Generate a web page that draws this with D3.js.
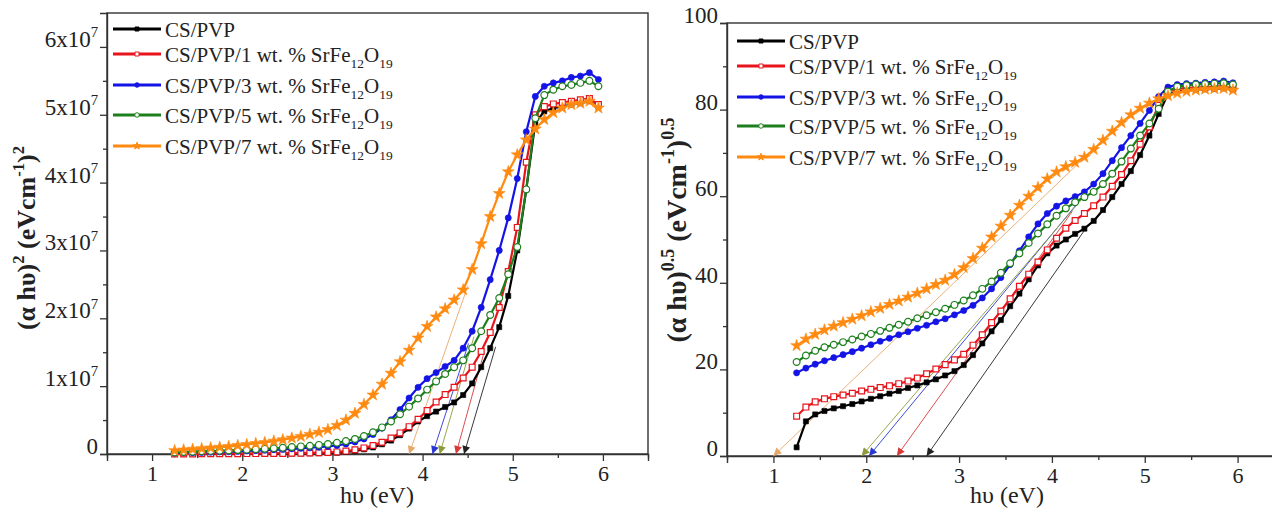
<!DOCTYPE html>
<html>
<head>
<meta charset="utf-8">
<script src="https://cdn.jsdelivr.net/npm/d3@7"></script>
<style>
  body { margin: 0; background: #fff; }
  svg { display: block; }
  text { font-family: "Liberation Serif", "Times New Roman", serif; fill: #222; }
</style>
</head>
<body>
<svg id="chart" width="1272" height="509"></svg>
<script>
// photon energy hv (eV), shared by every series
const energy = [1.25,1.35,1.45,1.55,1.65,1.75,1.85,1.95,2.05,2.15,2.25,2.35,2.45,2.55,2.65,2.75,2.85,2.95,
  3.05,3.15,3.25,3.35,3.45,3.55,3.65,3.75,3.85,3.95,4.05,4.15,4.25,4.35,4.45,4.55,4.65,4.75,4.85,4.95,
  5.05,5.15,5.25,5.35,5.45,5.55,5.65,5.75,5.85,5.95];

// (a hv)^2 in units of 1e7 (left panel)
const directCsPvp = [0,0,0.001,0.001,0.002,0.002,0.002,0.003,0.003,0.004,0.004,0.005,0.006,0.007,0.008,0.010,0.012,0.015,
  0.019,0.030,0.046,0.069,0.097,0.143,0.198,0.277,0.375,0.48,0.558,0.625,0.693,0.76,0.869,1.04,1.28,1.56,1.87,2.33,
  3.00,3.90,4.88,5.05,5.10,5.12,5.15,5.17,5.20,5.12];
const direct1wt = [0.001,0.002,0.002,0.003,0.004,0.004,0.004,0.005,0.006,0.006,0.007,0.008,0.009,0.011,0.013,0.016,0.020,0.024,
  0.031,0.043,0.062,0.09,0.126,0.174,0.236,0.311,0.403,0.513,0.64,0.766,0.876,0.983,1.12,1.28,1.51,1.79,2.16,2.69,
  3.34,4.30,5.00,5.12,5.16,5.18,5.20,5.22,5.24,5.15];
const direct3wt = [0.014,0.017,0.020,0.023,0.027,0.030,0.034,0.038,0.044,0.049,0.055,0.062,0.068,0.076,0.083,0.092,0.101,0.113,
  0.127,0.147,0.177,0.222,0.288,0.382,0.505,0.656,0.825,0.983,1.11,1.20,1.29,1.38,1.56,1.81,2.16,2.57,3.00,3.48,
  4.06,4.75,5.27,5.42,5.47,5.50,5.55,5.57,5.62,5.52];
const direct5wt = [0.022,0.029,0.035,0.040,0.044,0.048,0.052,0.058,0.063,0.070,0.077,0.084,0.092,0.102,0.112,0.121,0.134,0.148,
  0.166,0.19,0.222,0.264,0.32,0.392,0.48,0.586,0.698,0.819,0.949,1.07,1.18,1.28,1.38,1.56,1.81,2.05,2.30,2.65,
  3.05,3.90,4.95,5.29,5.37,5.42,5.44,5.47,5.50,5.42];
const direct7wt = [0.05,0.06,0.07,0.08,0.09,0.10,0.11,0.125,0.14,0.155,0.17,0.19,0.21,0.235,0.26,0.29,0.32,0.36,
  0.42,0.50,0.60,0.73,0.87,1.03,1.19,1.36,1.53,1.71,1.88,2.02,2.14,2.27,2.42,2.72,3.10,3.50,3.84,4.16,
  4.41,4.63,4.79,4.93,5.03,5.10,5.15,5.17,5.20,5.10];

// (a hv)^0.5 (right panel)
const indirectCsPvp = [2.0,8.0,9.6,10.4,11.0,11.5,12.0,12.6,13.2,13.8,14.4,15.0,15.7,16.3,17.0,17.7,18.6,19.6,
  21.0,23.3,26.0,28.8,31.4,34.6,37.5,40.8,44.0,46.8,48.6,50.0,51.3,52.5,54.3,56.8,59.8,62.8,65.8,69.5,
  74.0,79.0,83.6,84.3,84.5,84.6,84.7,84.8,84.9,84.6];
const indirect1wt = [9.2,11.3,12.5,13.2,13.7,14.1,14.5,15.0,15.4,15.8,16.2,16.7,17.3,18.0,19.0,20.1,21.1,22.2,
  23.5,25.6,28.0,30.8,33.5,36.3,39.2,42.0,44.8,47.6,50.3,52.6,54.4,56.0,57.8,59.8,62.3,65.0,68.2,72.0,
  76.0,81.0,84.3,84.8,85.0,85.1,85.2,85.3,85.4,85.0];
const indirect3wt = [19.2,20.3,21.2,22.0,22.7,23.4,24.1,24.9,25.7,26.5,27.2,28.0,28.7,29.5,30.2,31.0,31.7,32.6,
  33.6,34.8,36.5,38.6,41.2,44.2,47.4,50.6,53.6,56.0,57.7,58.9,59.9,61.0,62.8,65.2,68.2,71.2,74.0,76.8,
  79.8,83.0,85.2,85.8,86.0,86.1,86.3,86.4,86.6,86.2];
const indirect5wt = [21.7,23.2,24.3,25.1,25.7,26.3,26.9,27.6,28.2,28.9,29.6,30.3,31.0,31.8,32.5,33.2,34.0,34.9,
  35.9,37.1,38.6,40.3,42.3,44.5,46.8,49.2,51.4,53.5,55.5,57.2,58.6,59.8,61.0,62.8,65.2,68.0,71.0,74.0,
  76.8,80.2,84.2,85.3,85.6,85.8,85.9,86.0,86.1,85.8];
const indirect7wt = [25.5,27.0,28.1,29.1,30.0,30.8,31.6,32.4,33.3,34.1,35.0,35.8,36.7,37.6,38.6,39.6,40.6,41.9,
  43.5,45.6,48.0,50.6,53.1,55.6,57.9,60.0,62.0,64.0,65.6,66.8,67.8,69.0,70.8,72.9,75.0,77.0,78.8,80.3,
  81.5,82.5,83.2,83.8,84.2,84.5,84.7,84.8,84.9,84.5];

// band gap extrapolation: tangent start [hv, value] and intercept hv
const directTails = [[4.81,1.58],[4.68,1.49],[4.51,1.63],[4.57,1.73],[4.50,2.47]];
const directGaps = [4.46,4.37,4.11,4.19,3.85];
const indirectTails = [[4.38,53.0],[4.22,56.5],[4.35,60.3],[4.33,59.5],[4.33,68.5]];
const indirectGaps = [2.65,2.33,2.03,1.95,1.00];

const wtPercent = [null, 1, 3, 5, 7];
const xTicks = [1, 2, 3, 4, 5, 6];
const directYTicks = [0, 1, 2, 3, 4, 5, 6];
const indirectYTicks = [0, 20, 40, 60, 80, 100];

const colors = ['#000000', '#e8141c', '#1414e6', '#1c7f1c', '#ff8a10'];
const arrowColors = ['#222222', '#d83a3a', '#2838d0', '#8c9c3c', '#e6a868'];
const symbols = [d3.symbolSquare, d3.symbolSquare, d3.symbolCircle, d3.symbolCircle, d3.symbolStar];
const hollow = [false, true, false, true, false];
const symbolSizes = [26, 34, 30, 36, 44];

const svg = d3.select('#chart');
const defs = svg.append('defs');
arrowColors.forEach((c, i) => {
  defs.append('marker')
    .attr('id', 'head' + i)
    .attr('viewBox', '0 0 10 10')
    .attr('refX', 10).attr('refY', 5)
    .attr('markerUnits', 'userSpaceOnUse')
    .attr('markerWidth', 9).attr('markerHeight', 8)
    .attr('orient', 'auto')
    .append('path').attr('d', 'M0,0L10,5L0,10z').attr('fill', c);
});

// text with sub/superscripts
function richText(sel, parts, size) {
  let shift = 0;
  parts.forEach(p => {
    const target = p.sub ? size * 0.3 : p.sup ? -size * 0.42 : 0;
    sel.append('tspan')
      .attr('dy', target - shift)
      .attr('font-size', (p.sub || p.sup) ? size * 0.64 : size)
      .text(p.t);
    shift = target;
  });
}

function legendParts(i) {
  if (wtPercent[i] === null) return [{ t: 'CS/PVP' }];
  return [{ t: `CS/PVP/${wtPercent[i]} wt. % SrFe` }, { t: '12', sub: true }, { t: 'O' }, { t: '19', sub: true }];
}

function drawPanel(cfg) {
  const g = svg.append('g');
  const x = d3.scaleLinear().domain([0.5, 6.5]).range(cfg.xRange);
  const y = d3.scaleLinear().domain(cfg.yDomain).range(cfg.yRange);
  const [x0, x1] = cfg.xRange, [yb, yt] = cfg.yRange;

  // frame
  g.append('rect')
    .attr('x', x0).attr('y', yt).attr('width', x1 - x0).attr('height', yb - yt)
    .attr('fill', 'none').attr('stroke', '#333').attr('stroke-width', 1.4);

  // axes: majors + minors
  const halfX = d3.range(0.5, 6.6, 1);
  g.append('g').attr('transform', `translate(0,${yb})`)
    .call(d3.axisBottom(x).tickValues(halfX).tickSize(4).tickFormat(''))
    .call(a => a.select('.domain').remove());
  const xa = g.append('g').attr('transform', `translate(0,${yb})`)
    .call(d3.axisBottom(x).tickValues(xTicks).tickSize(7).tickPadding(4).tickFormat(d3.format('d')));
  xa.select('.domain').attr('stroke', '#333').attr('stroke-width', 1.4);
  xa.selectAll('text').attr('font-size', 22).attr('font-family', '"Liberation Serif", serif').attr('fill', '#222');

  const step = cfg.yTicks[1] - cfg.yTicks[0];
  const minorY = cfg.yTicks.slice(0, -1).map(v => v + step / 2);
  g.append('g').attr('transform', `translate(${x0},0)`)
    .call(d3.axisLeft(y).tickValues(minorY).tickSize(4).tickFormat(''))
    .call(a => a.select('.domain').remove());
  const ya = g.append('g').attr('transform', `translate(${x0},0)`)
    .call(d3.axisLeft(y).tickValues(cfg.yTicks).tickSize(7).tickFormat(''));
  ya.select('.domain').attr('stroke', '#333').attr('stroke-width', 1.4);
  g.selectAll('.tick line').attr('stroke', '#333').attr('stroke-width', 1.3);

  cfg.yTicks.forEach(v => {
    const t = g.append('text').attr('x', x0 - 9).attr('y', y(v)).attr('dy', '0.35em')
      .attr('text-anchor', 'end').attr('font-size', 23);
    richText(t, cfg.tickParts(v), 23);
  });

  // axis titles
  g.append('text').attr('x', cfg.xTitleX).attr('y', 503).attr('text-anchor', 'middle')
    .attr('font-size', 24).text('h\u03c5 (eV)');
  const ytl = g.append('text')
    .attr('transform', `translate(${cfg.yTitleX},${cfg.yTitleY}) rotate(-90)`)
    .attr('text-anchor', 'middle').attr('font-size', cfg.yTitleSize).attr('font-weight', 'bold');
  richText(ytl, cfg.yTitle, cfg.yTitleSize);

  // tangent arrows
  cfg.tails.forEach((tl, i) => {
    g.append('line')
      .attr('x1', x(tl[0])).attr('y1', y(tl[1]))
      .attr('x2', x(cfg.gaps[i])).attr('y2', y(0))
      .attr('stroke', arrowColors[i]).attr('stroke-width', 0.9)
      .attr('marker-end', `url(#head${i})`);
  });

  // series
  const line = d3.line().x((d, j) => x(energy[j])).y(d => y(d));
  cfg.series.forEach((vals, i) => {
    g.append('path').datum(vals).attr('d', line)
      .attr('fill', 'none').attr('stroke', colors[i]).attr('stroke-width', 2.2);
    const sym = d3.symbol().type(symbols[i]).size(symbolSizes[i]);
    g.append('g').selectAll('path').data(vals).join('path')
      .attr('transform', (d, j) => `translate(${x(energy[j])},${y(d)})`)
      .attr('d', sym)
      .attr('fill', hollow[i] ? '#fff' : colors[i])
      .attr('stroke', colors[i]).attr('stroke-width', hollow[i] ? 1.2 : 0.6);
  });

  // legend
  cfg.legendRows.forEach((ry, i) => {
    const lx = cfg.legendX;
    g.append('line').attr('x1', lx).attr('x2', lx + 48).attr('y1', ry).attr('y2', ry)
      .attr('stroke', colors[i]).attr('stroke-width', 3);
    g.append('path').attr('transform', `translate(${lx + 24},${ry})`)
      .attr('d', d3.symbol().type(symbols[i]).size(16))
      .attr('fill', hollow[i] ? '#fff' : colors[i])
      .attr('stroke', colors[i]).attr('stroke-width', 1);
    const t = g.append('text').attr('x', lx + 52).attr('y', ry + 7.5).attr('font-size', 21);
    richText(t, legendParts(i), 21);
  });
}

drawPanel({
  xRange: [107, 648], yRange: [454, 13], yDomain: [0, 6.5], yTicks: directYTicks,
  tickParts: v => v === 0 ? [{ t: '0' }] : [{ t: `${v}x10` }, { t: '7', sup: true }],
  xTitleX: 377, yTitleX: 35, yTitleY: 238, yTitleSize: 26,
  yTitle: [{ t: '(\u03b1 h\u03c5)' }, { t: '2', sup: true }, { t: ' (eVcm' }, { t: '-1', sup: true }, { t: ')' }, { t: '2', sup: true }],
  series: [directCsPvp, direct1wt, direct3wt, direct5wt, direct7wt],
  tails: directTails, gaps: directGaps,
  legendX: 113, legendRows: [29, 54, 85, 115, 146]
});

drawPanel({
  xRange: [727, 1284], yRange: [456, 23], yDomain: [0, 100], yTicks: indirectYTicks,
  tickParts: v => [{ t: String(v) }],
  xTitleX: 1007, yTitleX: 686, yTitleY: 230, yTitleSize: 28,
  yTitle: [{ t: '(\u03b1 h\u03c5)' }, { t: '0.5', sup: true }, { t: ' (eVcm' }, { t: '-1', sup: true }, { t: ')' }, { t: '0.5', sup: true }],
  series: [indirectCsPvp, indirect1wt, indirect3wt, indirect5wt, indirect7wt],
  tails: indirectTails, gaps: indirectGaps,
  legendX: 737, legendRows: [41, 66, 97, 126, 157]
});
</script>
</body>
</html>
